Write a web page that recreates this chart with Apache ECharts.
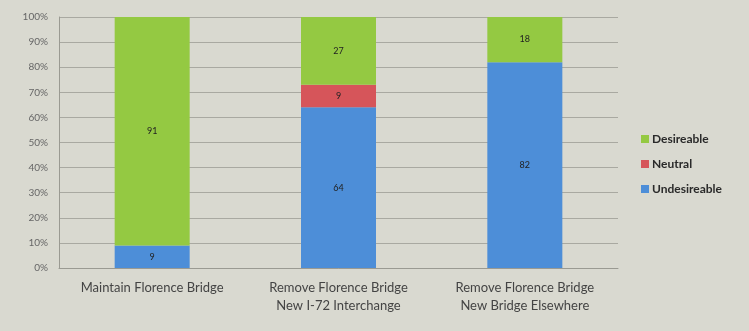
<!DOCTYPE html>
<html>
<head>
<meta charset="utf-8">
<script src="https://cdn.jsdelivr.net/npm/echarts@6/dist/echarts.min.js"></script>
<style>
  html, body { margin: 0; padding: 0; background: #d9d9d0; }
  #chart { width: 749px; height: 331px; }
</style>
</head>
<body>
<div id="chart"></div>
<script>
  var categories = ['Maintain Florence Bridge', 'Remove Florence Bridge\nNew I-72 Interchange', 'Remove Florence Bridge\nNew Bridge Elsewhere']
  var undesireable = [9, 64, 82]
  var neutral = [0, 9, 0]
  var desireable = [91, 27, 18]
  var yTicks = [0, 10, 20, 30, 40, 50, 60, 70, 80, 90, 100]

  var font = 'Lato'

  function seriesOf(name, data, color) {
    return {
      type: 'bar',
      name: name,
      stack: 'total',
      data: data,
      barWidth: 75,
      itemStyle: {color: color},
      label: {
        show: true,
        position: 'inside',
        color: '#222',
        fontSize: 9,
        fontFamily: font,
        formatter: function (p) { return p.value ? p.value : '' }
      }
    }
  }

  var chart = echarts.init(document.getElementById('chart'))
  chart.setOption({
    backgroundColor: '#d9d9d0',
    animation: false,
    grid: {left: 59, right: 131, top: 17, bottom: 63},
    legend: {
      orient: 'vertical',
      right: 22,
      top: 128,
      itemWidth: 8,
      itemHeight: 8,
      itemGap: 13,
      icon: 'rect',
      data: ['Desireable', 'Neutral', 'Undesireable'],
      textStyle: {color: '#2a2a2a', fontSize: 12, fontWeight: 'bold', fontFamily: font, padding: [0, 0, 0, -2]}
    },
    xAxis: {
      type: 'category',
      data: categories,
      axisLine: {lineStyle: {color: '#9a9a92'}},
      axisTick: {show: false},
      axisLabel: {color: '#444', fontSize: 13, fontFamily: font, margin: 11, lineHeight: 18, align: 'center'}
    },
    yAxis: {
      type: 'value',
      min: 0,
      max: 100,
      interval: 10,
      axisLine: {show: true, lineStyle: {color: '#9a9a92'}},
      axisTick: {show: false},
      axisLabel: {
        color: '#666',
        fontSize: 10,
        fontFamily: font,
        margin: 11,
        formatter: function (v) { return yTicks.indexOf(v) >= 0 ? v + '%' : '' }
      },
      splitLine: {lineStyle: {color: '#a9a9a1'}}
    },
    series: [
      seriesOf('Undesireable', undesireable, '#4d8ed8'),
      seriesOf('Neutral', neutral, '#d6555a'),
      seriesOf('Desireable', desireable, '#94c942')
    ]
  })
</script>
</body>
</html>
